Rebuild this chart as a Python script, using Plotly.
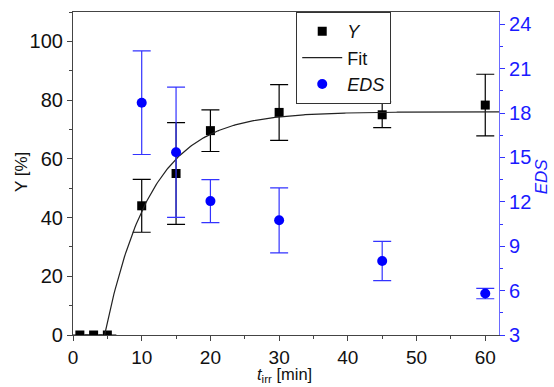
import numpy as np
import plotly.graph_objects as go

# Yield vs irradiation time
t_y = [1, 3, 5, 10, 15, 20, 30, 45, 60]
y_val = [0, 0, 0, 44.0, 55.0, 69.6, 75.8, 75.0, 78.3]
y_err = [0, 0, 0, 9.0, 17.3, 7.1, 9.5, 4.4, 10.5]

# EDS values (right axis)
t_eds = [10, 15, 20, 30, 45, 60]
eds_val = [18.7, 15.35, 12.05, 10.75, 8.0, 5.8]
eds_err = [3.5, 4.4, 1.45, 2.2, 1.33, 0.35]

# Fit parameters: Y = A * (1 - exp(-(t - t0) / tau))
fit_A = 76.0
fit_t0 = 4.6
fit_tau = 6.7
t_fit = np.linspace(fit_t0, 62, 300)
y_fit = fit_A * (1 - np.exp(-(t_fit - fit_t0) / fit_tau))

FONT = "Liberation Sans, Arial, sans-serif"
BLUE = "#0000ff"
AXIS_GRAY = "#444444"
TICK_BLUE = "#1a1aff"

fig = go.Figure()

fig.add_trace(go.Scatter(
    x=t_y, y=y_val, mode="markers", name="<i>Y</i>",
    marker=dict(symbol="square", size=9, color="black"),
    error_y=dict(type="data", array=y_err, visible=True, color="black",
                 thickness=1.2, width=9),
))
fig.add_trace(go.Scatter(
    x=t_fit, y=y_fit, mode="lines", name="Fit",
    line=dict(color="#222222", width=1.2),
))
fig.add_trace(go.Scatter(
    x=t_eds, y=eds_val, mode="markers", name="<i>EDS</i>", yaxis="y2",
    marker=dict(symbol="circle", size=10, color=BLUE),
    error_y=dict(type="data", array=eds_err, visible=True, color="#3333ff",
                 thickness=1.2, width=9),
))

fig.update_layout(
    width=554, height=387,
    margin=dict(l=73, r=55, t=12, b=52, autoexpand=False),
    paper_bgcolor="white", plot_bgcolor="white",
    font=dict(family=FONT, size=20, color="#111111"),
    showlegend=True,
    legend=dict(
        x=0.524, y=1.0, xanchor="left", yanchor="top",
        bgcolor="white", bordercolor="#333333", borderwidth=1,
        font=dict(size=18), tracegroupgap=0, itemwidth=40,
    ),
    xaxis=dict(
        range=[0, 62], dtick=10, tick0=0, automargin=False,
        showgrid=False, zeroline=False,
        showline=True, linecolor=AXIS_GRAY, linewidth=1.2, mirror=True,
        ticks="outside", ticklen=5, tickcolor=AXIS_GRAY,
        tickfont=dict(size=19),
        minor=dict(dtick=5, ticks="outside", ticklen=3, tickcolor=AXIS_GRAY),
    ),
    yaxis=dict(
        range=[0, 110], dtick=20, tick0=0, automargin=False,
        showgrid=False, zeroline=False,
        showline=True, linecolor=AXIS_GRAY, linewidth=1.2,
        ticks="outside", ticklen=5, tickcolor=AXIS_GRAY,
        minor=dict(dtick=10, ticks="outside", ticklen=3, tickcolor=AXIS_GRAY),
    ),
    yaxis2=dict(
        overlaying="y", side="right", anchor="x", automargin=False,
        range=[3, 24.83], dtick=3, tick0=3,
        showgrid=False, zeroline=False,
        showline=True, linecolor="#6a6aff", linewidth=1.2,
        ticks="outside", ticklen=5, tickcolor="#3333ff",
        tickfont=dict(color=TICK_BLUE),
        minor=dict(dtick=1.5, ticks="outside", ticklen=3, tickcolor="#3333ff"),
    ),
)

# Axis titles
fig.add_annotation(text="<i>t</i><sub>irr</sub> [min]", xref="paper", yref="paper",
                   x=0.497, y=-0.124, xanchor="center", yanchor="middle",
                   showarrow=False, borderpad=0, font=dict(size=16.5))
fig.add_annotation(text="Y [%]", xref="paper", yref="paper",
                   x=-0.121, y=0.506, xanchor="center", yanchor="middle",
                   textangle=-90, showarrow=False, borderpad=0,
                   font=dict(size=17))
fig.add_annotation(text="<i>EDS</i>", xref="paper", yref="paper",
                   x=1.1, y=0.49, xanchor="center", yanchor="middle",
                   textangle=-90, showarrow=False, borderpad=0,
                   font=dict(size=17, color=TICK_BLUE))

fig.write_html("out.html")
